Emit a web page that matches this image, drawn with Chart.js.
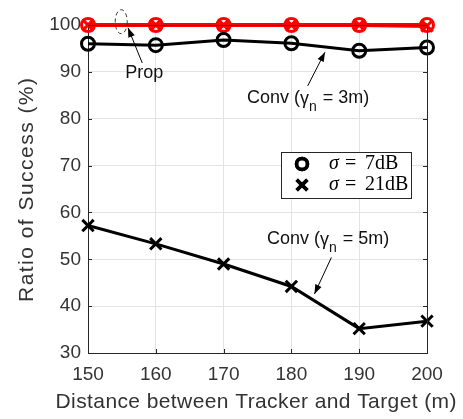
<!DOCTYPE html>
<html>
<head>
<meta charset="utf-8">
<script src="https://cdn.jsdelivr.net/npm/chart.js@4"></script>
<style>
  html, body { margin: 0; padding: 0; background: #fff; }
  #wrap { width: 463px; height: 419px; }
</style>
</head>
<body>
<div id="wrap"><canvas id="chart" width="463" height="419"></canvas></div>
<script>
// distances (m)
const distances = [150, 160, 170, 180, 190, 200];
// ratio of success (%)
const propSigma7 = [100, 100, 100, 100, 100, 100];
const propSigma21 = [100, 100, 100, 100, 100, 99.8];
const conv3mSigma7 = [96.0, 95.7, 96.8, 96.1, 94.5, 95.2];
const conv5mSigma21 = [57.2, 53.3, 49.0, 44.2, 35.2, 36.8];
const yTicks = [30, 40, 50, 60, 70, 80, 90, 100];
const xTitle = "Distance between Tracker and Target (m)";
const yTitle = "Ratio of Success (%)";

const FONT = "'Liberation Sans', Arial, Helvetica, sans-serif";
const SERIF = "'Liberation Serif', 'DejaVu Serif', serif";

function pts(ys) {
  return distances.map((d, i) => ({ x: d, y: ys[i] }));
}

function series(label, ys, color, style, width) {
  return {
    label: label,
    data: pts(ys),
    borderColor: color,
    backgroundColor: "rgba(0,0,0,0)",
    borderWidth: width,
    pointStyle: style,
    pointRadius: style === "crossRot" ? 8 : 6.5,
    pointBorderWidth: 3,
    pointBorderColor: color,
    pointBackgroundColor: "rgba(0,0,0,0)",
    tension: 0,
    clip: false,
  };
}

// arrows, labels, ellipse and legend box, placed in data units
const notes = {
  prop: { text: [155.5, 89.7], from: [158.0, 91.9], to: [155.9, 99.4], ellipse: [154.9, 100.7, 6, 12] },
  conv3: { text: [173.45, 84.4], from: [182.4, 87.0], to: [184.95, 94.2] },
  conv5: { text: [176.4, 54.3], from: [185.9, 50.4], to: [183.4, 42.6] },
  legend: [178.5, 72.9],
};

// text spread to a given width (the original titles run wider than Arial)
function spreadText(ctx, text, cx, cy, width) {
  const w0 = ctx.measureText(text).width;
  const s = Math.max(0, (width - w0) / (text.length - 1));
  ctx.letterSpacing = s + "px";
  ctx.textAlign = "left";
  ctx.fillText(text, cx - width / 2, cy);
  ctx.letterSpacing = "0px";
}

const overlay = {
  id: "overlay",
  afterDraw(chart) {
    const { ctx, chartArea: a, scales } = chart;
    const sx = scales.x, sy = scales.y;
    const px = (v) => sx.getPixelForValue(v);
    const py = (v) => sy.getPixelForValue(v);
    ctx.save();

    // box and inward ticks
    ctx.strokeStyle = "#262626";
    ctx.lineWidth = 1;
    ctx.beginPath();
    ctx.moveTo(a.left + 0.5, a.top + 0.5);
    ctx.lineTo(a.right + 0.5, a.top + 0.5);
    ctx.lineTo(a.right + 0.5, a.bottom + 0.5);
    sy.ticks.forEach((t) => {
      const y = Math.round(py(t.value)) + 0.5;
      ctx.moveTo(a.left, y); ctx.lineTo(a.left + 4, y);
      ctx.moveTo(a.right, y); ctx.lineTo(a.right - 4, y);
    });
    sx.ticks.forEach((t) => {
      const x = Math.round(px(t.value)) + 0.5;
      ctx.moveTo(x, a.bottom); ctx.lineTo(x, a.bottom - 4);
    });
    ctx.stroke();

    // axis titles
    ctx.fillStyle = "#333";
    ctx.textBaseline = "middle";
    ctx.font = "21px " + FONT;
    spreadText(ctx, xTitle, 256, 402, 401);
    ctx.save();
    ctx.translate(27, (a.top + a.bottom) / 2 + 1);
    ctx.rotate(-Math.PI / 2);
    ctx.font = "21px " + FONT;
    spreadText(ctx, yTitle, 0, 0, 224);
    ctx.restore();

    // arrows
    function arrow(from, to) {
      const x1 = px(from[0]), y1 = py(from[1]), x2 = px(to[0]), y2 = py(to[1]);
      const ang = Math.atan2(y2 - y1, x2 - x1);
      ctx.strokeStyle = "#000";
      ctx.fillStyle = "#000";
      ctx.lineWidth = 1;
      ctx.beginPath();
      ctx.moveTo(x1, y1);
      ctx.lineTo(x2, y2);
      ctx.stroke();
      ctx.beginPath();
      ctx.moveTo(x2, y2);
      ctx.lineTo(x2 - 10 * Math.cos(ang - 0.35), y2 - 10 * Math.sin(ang - 0.35));
      ctx.lineTo(x2 - 10 * Math.cos(ang + 0.35), y2 - 10 * Math.sin(ang + 0.35));
      ctx.closePath();
      ctx.fill();
    }
    arrow(notes.prop.from, notes.prop.to);
    arrow(notes.conv3.from, notes.conv3.to);
    arrow(notes.conv5.from, notes.conv5.to);

    // dashed ellipse
    const e = notes.prop.ellipse;
    ctx.setLineDash([4, 3]);
    ctx.strokeStyle = "#333";
    ctx.beginPath();
    ctx.ellipse(px(e[0]), py(e[1]), e[2], e[3], 0, 0, Math.PI * 2);
    ctx.stroke();
    ctx.setLineDash([]);

    // labels
    ctx.fillStyle = "#111";
    ctx.textBaseline = "middle";
    ctx.textAlign = "left";
    ctx.font = "18px " + FONT;
    ctx.fillText("Prop", px(notes.prop.text[0]), py(notes.prop.text[1]));

    function convLabel(pos, val) {
      let x = px(pos[0]);
      const y = py(pos[1]);
      ctx.font = "18px " + FONT;
      ctx.fillText("Conv (", x, y);
      x += ctx.measureText("Conv (").width;
      ctx.fillText("\u03b3", x, y + 1);
      x += ctx.measureText("\u03b3").width;
      ctx.font = "14px " + FONT;
      ctx.fillText("n", x, y + 9);
      x += ctx.measureText("n").width + 1;
      ctx.font = "18px " + FONT;
      ctx.fillText(" = " + val + ")", x, y);
    }
    convLabel(notes.conv3.text, "3m");
    convLabel(notes.conv5.text, "5m");

    // legend
    const lx = Math.round(px(notes.legend[0])), ly = Math.round(py(notes.legend[1])), lw = 130, lh = 46;
    ctx.fillStyle = "#fff";
    ctx.fillRect(lx, ly, lw, lh);
    ctx.strokeStyle = "#262626";
    ctx.lineWidth = 1;
    ctx.strokeRect(lx + 0.5, ly + 0.5, lw, lh);
    const items = [["circle", "7dB", 5.5], ["crossRot", "21dB", 7.5]];
    items.forEach((it, i) => {
      const cy = ly + 12 + i * 21;
      ctx.strokeStyle = "#000";
      ctx.lineWidth = 3.5;
      Chart.helpers.drawPoint(ctx, { pointStyle: it[0], radius: it[2], borderWidth: 3.5 }, lx + 21, cy);
      ctx.stroke();
      ctx.fillStyle = "#000";
      ctx.font = "italic 20px " + SERIF;
      ctx.fillText("\u03c3", lx + 48, cy);
      ctx.font = "20px " + SERIF;
      ctx.fillText("=", lx + 64, cy);
      ctx.fillText(it[1], lx + 84, cy);
    });

    ctx.restore();
  },
};

new Chart(document.getElementById("chart").getContext("2d"), {
  type: "line",
  data: {
    datasets: [
      series("Conv 5m, sigma 21dB", conv5mSigma21, "#000", "crossRot", 3),
      series("Conv 3m, sigma 7dB", conv3mSigma7, "#000", "circle", 3),
      series("Prop, sigma 21dB", propSigma21, "#ff0000", "crossRot", 4),
      series("Prop, sigma 7dB", propSigma7, "#ff0000", "circle", 4),
    ],
  },
  options: {
    responsive: false,
    animation: false,
    layout: { autoPadding: false, padding: { top: 25, right: 36, left: 0, bottom: 0 } },
    plugins: { legend: { display: false }, tooltip: { enabled: false } },
    scales: {
      x: {
        type: "linear",
        min: 150,
        max: 200,
        afterFit(s) { s.height = 66; },
        ticks: { stepSize: 10, color: "#333", font: { family: FONT, size: 19 }, padding: 10, maxRotation: 0 },
        grid: { color: "#e3e3e3", drawTicks: false },
        border: { color: "#262626", width: 1 },
      },
      y: {
        min: 30,
        max: 100,
        afterFit(s) { s.width = 88; },
        afterBuildTicks(s) { s.ticks = yTicks.map((v) => ({ value: v })); },
        ticks: { color: "#333", font: { family: FONT, size: 19 }, padding: 7 },
        grid: { color: "#e3e3e3", drawTicks: false },
        border: { color: "#262626", width: 1 },
      },
    },
  },
  plugins: [overlay],
});
</script>
</body>
</html>
